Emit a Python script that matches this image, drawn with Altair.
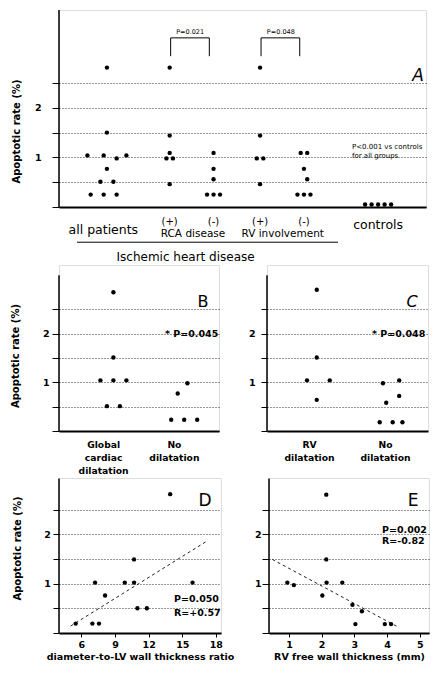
import altair as alt
import pandas as pd

FONT = "DejaVu Sans"
SLOT = 6.5  # pixels per horizontal swarm slot

# ---------------- Panel A: apoptotic rate by group ----------------
A_main = ["all patients", "RCA disease", "RV involvement", "controls"]
A_all_vals = [2.81, 1.50, 1.04, 1.04, 0.98, 1.04, 0.77, 0.51, 0.51, 0.25, 0.25, 0.25]
A_all_slots = [0, 0, -3, -0.5, 1.5, 3, 0, -1, 1, -2.5, -0.5, 1.5]
A_rca_pos_vals = [2.81, 1.44, 1.09, 0.98, 0.98, 0.46]
A_rca_pos_slots = [0, 0, 0, -0.5, 0.5, 0]
A_rca_neg_vals = [1.09, 0.77, 0.56, 0.25, 0.25, 0.25]
A_rca_neg_slots = [0, 0, 0, -1, 0, 1]
A_rv_pos_vals = [2.81, 1.44, 0.98, 0.98, 0.46]
A_rv_pos_slots = [0, 0, -0.5, 0.5, 0]
A_rv_neg_vals = [1.09, 1.09, 0.77, 0.56, 0.25, 0.25, 0.25]
A_rv_neg_slots = [-0.5, 0.5, 0, 0.5, -1, 0, 1]
A_ctrl_vals = [0.05, 0.05, 0.05, 0.05, 0.05]
A_ctrl_slots = [-2, -1, 0, 1, 2]
A_pvalues = ["P=0.021", "P=0.048"]

# ---------------- Panel B: global cardiac dilatation ----------------
B_cats = ["Global cardiac dilatation", "No dilatation"]
B_dil_vals = [2.85, 1.51, 1.04, 1.04, 1.04, 0.51, 0.51]
B_dil_slots = [0, 0, -2, 0, 2, -1, 1]
B_no_vals = [0.98, 0.77, 0.23, 0.23, 0.23]
B_no_slots = [0.5, -1, -2, 0, 2]

# ---------------- Panel C: RV dilatation ----------------
C_cats = ["RV dilatation", "No dilatation"]
C_dil_vals = [2.90, 1.51, 1.04, 1.04, 0.64]
C_dil_slots = [0, 0, -1.5, 2, 0]
C_no_vals = [1.04, 0.98, 0.72, 0.58, 0.18, 0.18, 0.18]
C_no_slots = [1, -1.5, 1, -1, -2, 0, 1.5]

# ---------------- Panel D: diameter-to-LV wall thickness ratio ----------------
D_ratio = [5.49, 6.98, 7.57, 7.22, 8.11, 9.87, 10.70, 10.70, 11.00, 11.84, 13.92, 15.92]
D_rate = [0.19, 0.19, 0.19, 1.02, 0.76, 1.02, 1.49, 1.02, 0.50, 0.50, 2.81, 1.02]
D_fit_x = [5.04, 17.2]
D_fit_y = [0.14, 1.86]

# ---------------- Panel E: RV free wall thickness ----------------
E_thick = [0.95, 1.15, 2.14, 2.14, 2.15, 2.02, 2.63, 2.94, 3.23, 3.03, 3.93, 4.12]
E_rate = [1.02, 0.97, 2.80, 1.49, 1.02, 0.76, 1.02, 0.57, 0.44, 0.18, 0.18, 0.18]
E_fit_x = [0.49, 4.31]
E_fit_y = [1.49, 0.13]

TICKS = [0, 0.5, 1, 1.5, 2, 2.5]
LABEL_EXPR = "datum.value == 1 ? '1' : (datum.value == 2 ? '2' : '')"


def y_axis(tick, lpad, title=None, tpad=0, title_y=None):
    kw = dict(values=TICKS, labelExpr=LABEL_EXPR, tickSize=tick, labelPadding=lpad,
              domain=False, grid=True, gridDash=[1, 2], gridColor="black", gridWidth=0.9,
              gridOpacity=0.9, tickColor="black", tickWidth=1, labelFont=FONT,
              labelFontSize=9.5, labelFontWeight="bold", labelColor="black")
    if title:
        kw.update(title=title, titlePadding=tpad, titleFont=FONT, titleFontSize=10,
                  titleFontWeight="bold", titleColor="black")
        if title_y is not None:
            kw["titleY"] = title_y
    else:
        kw["title"] = None
    return alt.Axis(**kw)


def text(fs, weight="normal", align="center", style="normal"):
    return alt.Chart().mark_text(font=FONT, fontSize=fs, fontWeight=weight, align=align,
                                 fontStyle=style, color="black")


def swarm_rows(main, sub, vals, slots):
    return [dict(main=main, sub=sub, value=v, slot=s) for v, s in zip(vals, slots)]


# ======================= Panel A =======================
A_W, A_H, A_UNIT = 367, 197, 49.6
A_YMAX = A_H / A_UNIT
A_PO = 0.03
A_BW = A_W / (len(A_main) + 2 * A_PO)
A_OFF = "datum.slot + (datum.sub === '(+)' ? -4.25 : (datum.sub === '(-)' ? 2.5 : 0))"

A_rows = (swarm_rows("all patients", "", A_all_vals, A_all_slots)
          + swarm_rows("RCA disease", "(+)", A_rca_pos_vals, A_rca_pos_slots)
          + swarm_rows("RCA disease", "(-)", A_rca_neg_vals, A_rca_neg_slots)
          + swarm_rows("RV involvement", "(+)", A_rv_pos_vals, A_rv_pos_slots)
          + swarm_rows("RV involvement", "(-)", A_rv_neg_vals, A_rv_neg_slots)
          + swarm_rows("controls", "", A_ctrl_vals, A_ctrl_slots))
A_df = pd.DataFrame(A_rows)

xA = alt.X("main:N", scale=alt.Scale(type="band", domain=A_main, paddingInner=0, paddingOuter=A_PO),
           axis=alt.Axis(labels=False, ticks=False, title=None, domainWidth=2,
                         domainColor="black", grid=False))
xoA = alt.XOffset("off:Q", scale=alt.Scale(domain=[-20, 20],
                                          range=[A_BW / 2 - 20 * SLOT, A_BW / 2 + 20 * SLOT]))
yA = alt.Y("value:Q", scale=alt.Scale(domain=[0, A_YMAX], nice=False, zero=False),
           axis=y_axis(7, 11, "Apoptotic rate (%)", 13, 121))

A_dots = alt.Chart(A_df).transform_calculate(off=A_OFF).mark_circle(
    size=19, color="black", opacity=1).encode(x=xA, xOffset=xoA, y=yA)

A_axisline = alt.Chart(pd.DataFrame({"value": [0], "value2": [A_YMAX]})).mark_rule(
    color="black", strokeWidth=1.5).encode(x=alt.value(0), y=yA, y2="value2:Q")

A_bracket_df = pd.DataFrame({
    "bid": [0, 0, 0, 0, 1, 1, 1, 1],
    "main": ["RCA disease"] * 4 + ["RV involvement"] * 4,
    "sub": ["(+)", "(+)", "(-)", "(-)"] * 2,
    "value": [3.04, 3.41, 3.41, 3.04] * 2,
    "slot": [0.15, 0.15, -0.65, -0.65] * 2,
    "ord": [0, 1, 2, 3] * 2,
})
A_brackets = alt.Chart(A_bracket_df).transform_calculate(off=A_OFF).mark_line(
    color="black", strokeWidth=1).encode(x=xA, xOffset=xoA, y=yA, detail="bid:N", order="ord:Q")

A_ptext = text(6.5).properties(data=pd.DataFrame({
    "main": ["RCA disease", "RV involvement"], "sub": ["", ""], "slot": [-1.1, -1.06],
    "value": [3.53, 3.53], "text": A_pvalues})).transform_calculate(off=A_OFF).encode(
    x=xA, xOffset=xoA, y=yA, text="text:N")

A_sublab = text(10).properties(data=pd.DataFrame({
    "main": ["RCA disease", "RCA disease", "RV involvement", "RV involvement"],
    "sub": ["(+)", "(-)", "(+)", "(-)"], "slot": [0, 0, 0, 0], "value": [-0.30] * 4,
    "text": ["(+)", "(-)", "(+)", "(-)"]})).transform_calculate(off=A_OFF).encode(
    x=xA, xOffset=xoA, y=yA, text="text:N")

A_biglab = text(12.5).properties(data=pd.DataFrame({
    "main": ["all patients", "controls"], "sub": ["", ""], "slot": [-0.55, 0],
    "value": [-0.46, -0.37], "text": ["all patients", "controls"]})).transform_calculate(
    off=A_OFF).encode(x=xA, xOffset=xoA, y=yA, text="text:N")

A_grplab = text(10.5).properties(data=pd.DataFrame({
    "main": ["RCA disease", "RV involvement"], "sub": ["", ""], "slot": [-0.66, -0.77],
    "value": [-0.54, -0.54], "text": ["RCA disease", "RV involvement"]})).transform_calculate(
    off=A_OFF).encode(x=xA, xOffset=xoA, y=yA, text="text:N")

A_ihd = text(12).properties(data=pd.DataFrame({
    "main": ["RCA disease"], "sub": [""], "slot": [-1.8], "value": [-1.01],
    "text": ["Ischemic heart disease"]})).transform_calculate(off=A_OFF).encode(
    x=xA, xOffset=xoA, y=yA, text="text:N")

A_underline = alt.Chart(pd.DataFrame({"value": [-0.71]})).mark_rule(
    color="black", strokeWidth=1).encode(x=alt.value(18), x2=alt.value(279), y=yA)

A_letter = text(17, style="italic").properties(data=pd.DataFrame({
    "value": [2.64], "text": ["A"]})).encode(x=alt.value(359), y=yA, text="text:N")

A_note = text(7, align="left").properties(data=pd.DataFrame({
    "value": [1.21, 1.03], "text": ["P<0.001 vs controls", "for all groups"]})).encode(
    x=alt.value(293), y=yA, text="text:N")

panelA = alt.layer(A_axisline, A_brackets, A_dots, A_ptext, A_sublab, A_biglab, A_grplab,
                   A_ihd, A_underline, A_letter, A_note).properties(width=A_W, height=A_H)


# ======================= Panels B and C =======================
BC_H, BC_UNIT = 166, 48.7
BC_YMAX = BC_H / BC_UNIT
BC_TOP = 3.2


def cat_panel(cats, rows, W, po, letter, letter_style, ptext, ptext_x, axis):
    bw = W / (len(cats) + 2 * po)
    df = pd.DataFrame(rows)
    x = alt.X("main:N", scale=alt.Scale(type="band", domain=cats, paddingInner=0, paddingOuter=po),
              axis=alt.Axis(title=None, ticks=False, labelExpr="split(datum.label, ' ')",
                            labelPadding=9, labelLineHeight=13.3, labelFont=FONT,
                            labelFontSize=9.2, labelFontWeight="bold", labelColor="black",
                            labelAngle=0, domainWidth=2, domainColor="black", grid=False))
    xo = alt.XOffset("slot:Q", scale=alt.Scale(domain=[-20, 20],
                                              range=[bw / 2 - 20 * SLOT, bw / 2 + 20 * SLOT]))
    y = alt.Y("value:Q", scale=alt.Scale(domain=[0, BC_YMAX], nice=False, zero=False), axis=axis)
    dots = alt.Chart(df).mark_circle(size=19, color="black", opacity=1).encode(x=x, xOffset=xo, y=y)
    line = alt.Chart(pd.DataFrame({"value": [0], "value2": [BC_TOP]})).mark_rule(
        color="black", strokeWidth=1.5).encode(x=alt.value(0), y=y, y2="value2:Q")
    let = text(16, style=letter_style).properties(data=pd.DataFrame({
        "value": [2.64], "text": [letter]})).encode(x=alt.value(W - 16), y=y, text="text:N")
    pt = text(9.5, weight="bold", align="left").properties(data=pd.DataFrame({
        "value": [2.0], "text": [ptext]})).encode(x=alt.value(ptext_x), y=y, text="text:N")
    return alt.layer(line, dots, let, pt).properties(width=W, height=BC_H)


B_rows = swarm_rows(B_cats[0], "", B_dil_vals, B_dil_slots) + swarm_rows(B_cats[1], "", B_no_vals, B_no_slots)
C_rows = swarm_rows(C_cats[0], "", C_dil_vals, C_dil_slots) + swarm_rows(C_cats[1], "", C_no_vals, C_no_slots)

panelB = cat_panel(B_cats, B_rows, 160, 0.13, "B", "normal", "* P=0.045", 106,
                   y_axis(7, 3, "Apoptotic rate (%)", 21.7, BC_H - 1.55 * BC_UNIT))
panelC = cat_panel(C_cats, C_rows, 161, 0.06, "C", "italic", "* P=0.048", 105,
                   y_axis(6, 6))

# ======================= Panels D and E =======================
DE_H, DE_UNIT = 155, 49.4
DE_YMAX = DE_H / DE_UNIT
DE_TOP = 3.13


def num_panel(xs, ys, fx, fy, W, dom, ticks, xtitle, letter, ptexts, ptext_x, ptext_y, axis):
    x = alt.X("xv:Q", scale=alt.Scale(domain=dom, nice=False, zero=False),
              axis=alt.Axis(values=ticks, title=xtitle, tickSize=4, tickColor="black",
                            labelPadding=2, labelFont=FONT, labelFontSize=9.5,
                            labelFontWeight="bold", labelColor="black", titleFont=FONT,
                            titleFontSize=9.5, titleFontWeight="bold", titleColor="black",
                            titlePadding=3, domainWidth=2, domainColor="black", grid=False,
                            format="d"))
    y = alt.Y("value:Q", scale=alt.Scale(domain=[0, DE_YMAX], nice=False, zero=False), axis=axis)
    dots = alt.Chart(pd.DataFrame({"xv": xs, "value": ys})).mark_circle(
        size=19, color="black", opacity=1).encode(x=x, y=y)
    fit = alt.Chart(pd.DataFrame({"xv": fx, "value": fy})).mark_line(
        color="#222222", strokeWidth=1, strokeDash=[3, 3]).encode(x=x, y=y)
    line = alt.Chart(pd.DataFrame({"value": [0], "value2": [DE_TOP]})).mark_rule(
        color="black", strokeWidth=1.5).encode(x=alt.value(0), y=y, y2="value2:Q")
    let = text(17).properties(data=pd.DataFrame({
        "value": [2.67], "text": [letter]})).encode(x=alt.value(W - 16), y=y, text="text:N")
    pt = text(9.5, weight="bold", align="left").properties(data=pd.DataFrame({
        "value": ptext_y, "text": ptexts})).encode(x=alt.value(ptext_x), y=y, text="text:N")
    return alt.layer(line, fit, dots, let, pt).properties(width=W, height=DE_H)


panelD = num_panel(D_ratio, D_rate, D_fit_x, D_fit_y, 162, [4.0, 18.46], [6, 9, 12, 15, 18],
                   "diameter-to-LV wall thickness ratio", "D", ["P=0.050", "R=+0.57"], 115,
                   [0.68, 0.40], y_axis(6, 2.6, "Apoptotic rate (%)", 21.4, DE_H - 1.72 * DE_UNIT))
panelE = num_panel(E_thick, E_rate, E_fit_x, E_fit_y, 160, [0.39, 5.28], [1, 2, 3, 4, 5],
                   "RV free wall thickness (mm)", "E", ["P=0.002", "R=-0.82"], 113,
                   [2.09, 1.86], y_axis(7, 1))

rowBC = alt.hconcat(panelB, panelC, spacing=48, bounds="flush")
rowDE = alt.hconcat(panelD, panelE, spacing=48, bounds="flush")

chart = alt.vconcat(panelA, rowBC, rowDE, spacing=0).properties(
    padding={"left": 2, "top": 0, "right": 0, "bottom": 0}
).configure_view(stroke=None).configure(background="white")

chart.save("out.html", embed_options={"renderer": "svg", "actions": False})
